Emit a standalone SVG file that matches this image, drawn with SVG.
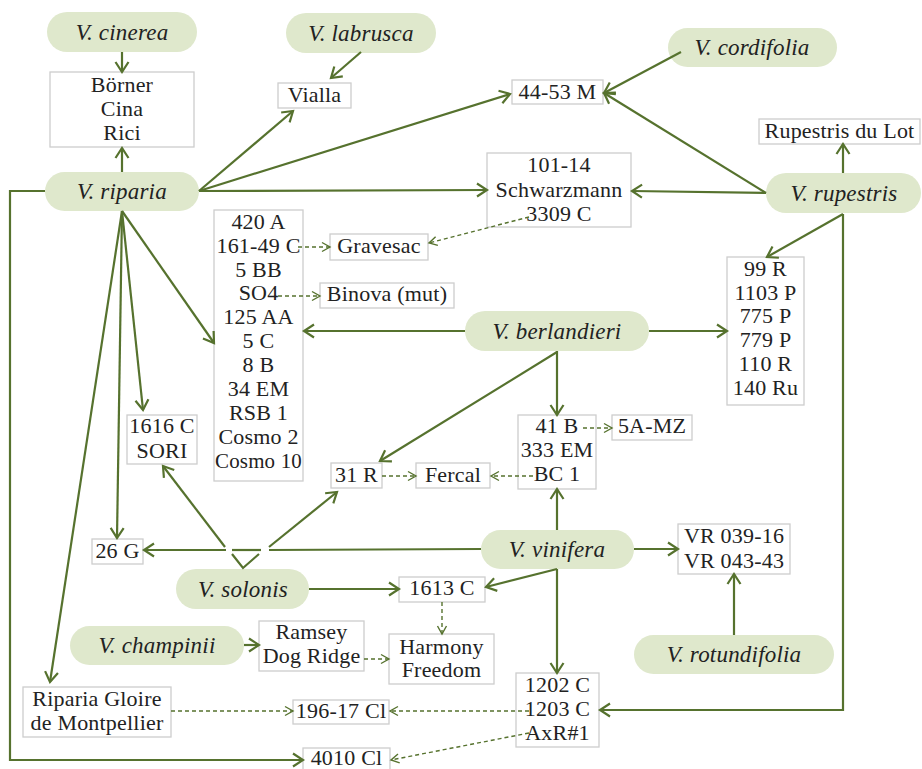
<svg xmlns="http://www.w3.org/2000/svg" width="922" height="769" viewBox="0 0 922 769">
<style>
.pill rect{fill:#dfe8cc}
.box rect{fill:#fff;stroke:#cdcdcd;stroke-width:1.3}
text{font-family:"Liberation Serif","Times New Roman",serif;font-size:22px;fill:#222;text-anchor:middle;letter-spacing:0.2px}
.pill text{font-style:italic;font-size:23px}
.c{stroke:#56722e;stroke-width:2.2;fill:none}
.s{marker-end:url(#a)}
.d{stroke:#56722e;stroke-width:1.4;fill:none;stroke-dasharray:4 3;marker-end:url(#b)}
</style>
<defs>
<marker id="a" markerUnits="userSpaceOnUse" markerWidth="16" markerHeight="16" viewBox="0 0 16 16" refX="13" refY="8" orient="auto"><path d="M3,1.5 L13,8 L3,14.5" fill="none" stroke="#56722e" stroke-width="2.2"/></marker>
<marker id="b" markerUnits="userSpaceOnUse" markerWidth="12" markerHeight="12" viewBox="0 0 12 12" refX="10" refY="6" orient="auto"><path d="M2,1.5 L10,6 L2,10.5" fill="none" stroke="#56722e" stroke-width="1.4"/></marker>
</defs>

<g id="cinerea" class="pill"><rect x="47" y="12" width="150" height="40" rx="20"/><text x="122" y="40">V. cinerea</text></g>
<g id="labrusca" class="pill"><rect x="286" y="13" width="150" height="40" rx="20"/><text x="361" y="41">V. labrusca</text></g>
<g id="riparia" class="pill"><rect x="45" y="172" width="154" height="39" rx="19.5"/><text x="122" y="199">V. riparia</text></g>
<g id="cordifolia" class="pill"><rect x="668" y="28" width="169" height="39" rx="19.5"/><text x="752" y="55">V. cordifolia</text></g>
<g id="rupestris" class="pill"><rect x="766" y="173" width="155" height="40" rx="20"/><text x="844" y="201">V. rupestris</text></g>
<g id="berlandieri" class="pill"><rect x="465" y="311" width="184" height="40" rx="20"/><text x="557" y="339">V. berlandieri</text></g>
<g id="vinifera" class="pill"><rect x="481" y="530" width="153" height="39" rx="19.5"/><text x="557" y="557">V. vinifera</text></g>
<g id="solonis" class="pill"><rect x="176" y="569" width="133" height="40" rx="20"/><text x="243" y="597">V. solonis</text></g>
<g id="champinii" class="pill"><rect x="70" y="626" width="174" height="39" rx="19.5"/><text x="157" y="653">V. champinii</text></g>
<g id="rotundifolia" class="pill"><rect x="634" y="635" width="200" height="39" rx="19.5"/><text x="734" y="662">V. rotundifolia</text></g>

<g id="borner" class="box"><rect x="50" y="72" width="144" height="75"/><text x="122" y="92">Börner</text><text x="122" y="116">Cina</text><text x="122" y="140">Rici</text></g>
<g id="vialla" class="box"><rect x="278" y="83" width="73" height="25"/><text x="314.5" y="102">Vialla</text></g>
<g id="m4453" class="box"><rect x="512" y="80" width="91" height="24"/><text x="557.5" y="99">44-53 M</text></g>
<g id="dulot" class="box"><rect x="759" y="119" width="161" height="25"/><text x="839.5" y="138">Rupestris du Lot</text></g>
<g id="schwarzmann" class="box"><rect x="487" y="153" width="144" height="74"/><text x="559" y="172">101-14</text><text x="559" y="197">Schwarzmann</text><text x="559" y="221">3309 C</text></g>
<g id="ber-rip" class="box"><rect x="214" y="210" width="89" height="271"/>
<text x="258.5" y="229">420 A</text><text x="258.5" y="253">161-49 C</text><text x="258.5" y="277">5 BB</text><text x="258.5" y="300">SO4</text><text x="258.5" y="324">125 AA</text><text x="258.5" y="348">5 C</text><text x="258.5" y="372">8 B</text><text x="258.5" y="396">34 EM</text><text x="258.5" y="420">RSB 1</text><text x="258.5" y="444">Cosmo 2</text><text x="258.5" y="468" textLength="87" lengthAdjust="spacingAndGlyphs">Cosmo 10</text></g>
<g id="gravesac" class="box"><rect x="330" y="234" width="98" height="26"/><text x="379" y="253">Gravesac</text></g>
<g id="binova" class="box"><rect x="320" y="283" width="134" height="25"/><text x="387" y="301">Binova (mut)</text></g>
<g id="c1616" class="box"><rect x="127" y="415" width="70" height="49"/><text x="162" y="433">1616 C</text><text x="162" y="458">SORI</text></g>
<g id="r31" class="box"><rect x="331" y="463" width="51" height="25"/><text x="356.5" y="482">31 R</text></g>
<g id="fercal" class="box"><rect x="416" y="463" width="74" height="25"/><text x="453" y="482">Fercal</text></g>
<g id="b41" class="box"><rect x="518" y="415" width="78" height="74"/><text x="557" y="433">41 B</text><text x="557" y="457">333 EM</text><text x="557" y="481">BC 1</text></g>
<g id="mz5a" class="box"><rect x="612" y="415" width="80" height="25"/><text x="652" y="433">5A-MZ</text></g>
<g id="ber-rup" class="box"><rect x="727" y="257" width="77" height="148"/><text x="765.5" y="276">99 R</text><text x="765.5" y="300">1103 P</text><text x="765.5" y="323">775 P</text><text x="765.5" y="347">779 P</text><text x="765.5" y="371">110 R</text><text x="765.5" y="395">140 Ru</text></g>
<g id="g26" class="box"><rect x="92" y="539" width="51" height="25"/><text x="117.5" y="558">26 G</text></g>
<g id="vr" class="box"><rect x="678" y="524" width="112" height="50"/><text x="734" y="543">VR 039-16</text><text x="734" y="568">VR 043-43</text></g>
<g id="c1613" class="box"><rect x="399" y="577" width="86" height="25"/><text x="442" y="595">1613 C</text></g>
<g id="ramsey" class="box"><rect x="259" y="621" width="105" height="50"/><text x="311.5" y="639">Ramsey</text><text x="311.5" y="663">Dog Ridge</text></g>
<g id="harmony" class="box"><rect x="389" y="634" width="105" height="50"/><text x="441.5" y="654">Harmony</text><text x="441.5" y="677">Freedom</text></g>
<g id="c1202" class="box"><rect x="516" y="673" width="83" height="74"/><text x="557.5" y="692">1202 C</text><text x="557.5" y="716">1203 C</text><text x="557.5" y="740">AxR#1</text></g>
<g id="gloire" class="box"><rect x="23" y="687" width="148" height="50"/><text x="97" y="706">Riparia Gloire</text><text x="97" y="730">de Montpellier</text></g>
<g id="cl19617" class="box"><rect x="293" y="700" width="96" height="24"/><text x="341" y="718">196-17 Cl</text></g>
<g id="cl4010" class="box"><rect x="303" y="748" width="87" height="25"/><text x="346.5" y="765">4010 Cl</text></g>

<g id="connectors">
<line class="c s" x1="122" y1="52" x2="122" y2="72"/>
<line class="c s" x1="122" y1="172" x2="122" y2="148"/>
<line class="c s" x1="361" y1="52" x2="331" y2="78"/>
<line class="c s" x1="199" y1="191" x2="293" y2="111"/>
<line class="c s" x1="199" y1="191" x2="510" y2="94"/>
<line class="c s" x1="199" y1="191" x2="487" y2="190"/>
<line class="c s" x1="681" y1="52" x2="604" y2="93"/>
<line class="c s" x1="766" y1="193" x2="604" y2="93"/>
<line class="c s" x1="766" y1="193" x2="632" y2="191"/>
<line class="c s" x1="843" y1="173" x2="843" y2="144"/>
<line class="c s" x1="843" y1="214" x2="767" y2="257"/>
<polyline class="c s" points="843,214 843,710 600,710"/>
<line class="c s" x1="465" y1="331" x2="304" y2="331"/>
<line class="c s" x1="649" y1="331" x2="727" y2="331"/>
<line class="c s" x1="557" y1="351" x2="557" y2="415"/>
<line class="c s" x1="557" y1="352" x2="380" y2="461"/>
<line class="c s" x1="122" y1="211" x2="214" y2="343"/>
<line class="c s" x1="122" y1="211" x2="143" y2="410"/>
<line class="c s" x1="122" y1="211" x2="117" y2="538"/>
<line class="c s" x1="122" y1="211" x2="50" y2="682"/>
<polyline class="c s" points="45,191 10,191 10,760 303,760"/>
<line class="c s" x1="226" y1="550" x2="144" y2="550"/>
<line class="c" x1="232" y1="550" x2="261" y2="550"/>
<line class="c" x1="269" y1="550" x2="481" y2="549"/>
<polyline class="c" points="232,554 243,568 259,554"/>
<line class="c s" x1="225" y1="547" x2="163" y2="466"/>
<line class="c s" x1="269" y1="547" x2="337" y2="492"/>
<line class="c s" x1="309" y1="589" x2="399" y2="589"/>
<line class="c s" x1="557" y1="569" x2="486" y2="587"/>
<line class="c s" x1="557" y1="530" x2="557" y2="489"/>
<line class="c s" x1="634" y1="549" x2="678" y2="549"/>
<line class="c s" x1="557" y1="569" x2="557" y2="673"/>
<line class="c s" x1="734" y1="635" x2="734" y2="574"/>
<line class="c s" x1="244" y1="645" x2="259" y2="645"/>
<line class="d" x1="298" y1="247" x2="330" y2="247"/>
<line class="d" x1="529" y1="217" x2="429" y2="243"/>
<line class="d" x1="278" y1="296" x2="320" y2="296"/>
<line class="d" x1="382" y1="476" x2="416" y2="476"/>
<line class="d" x1="533" y1="476" x2="491" y2="476"/>
<line class="d" x1="583" y1="428" x2="612" y2="428"/>
<line class="d" x1="442" y1="602" x2="442" y2="634"/>
<line class="d" x1="364" y1="659" x2="389" y2="659"/>
<line class="d" x1="171" y1="711" x2="293" y2="711"/>
<line class="d" x1="529" y1="711" x2="390" y2="711"/>
<line class="d" x1="529" y1="733" x2="391" y2="760"/>
</g>
</svg>
